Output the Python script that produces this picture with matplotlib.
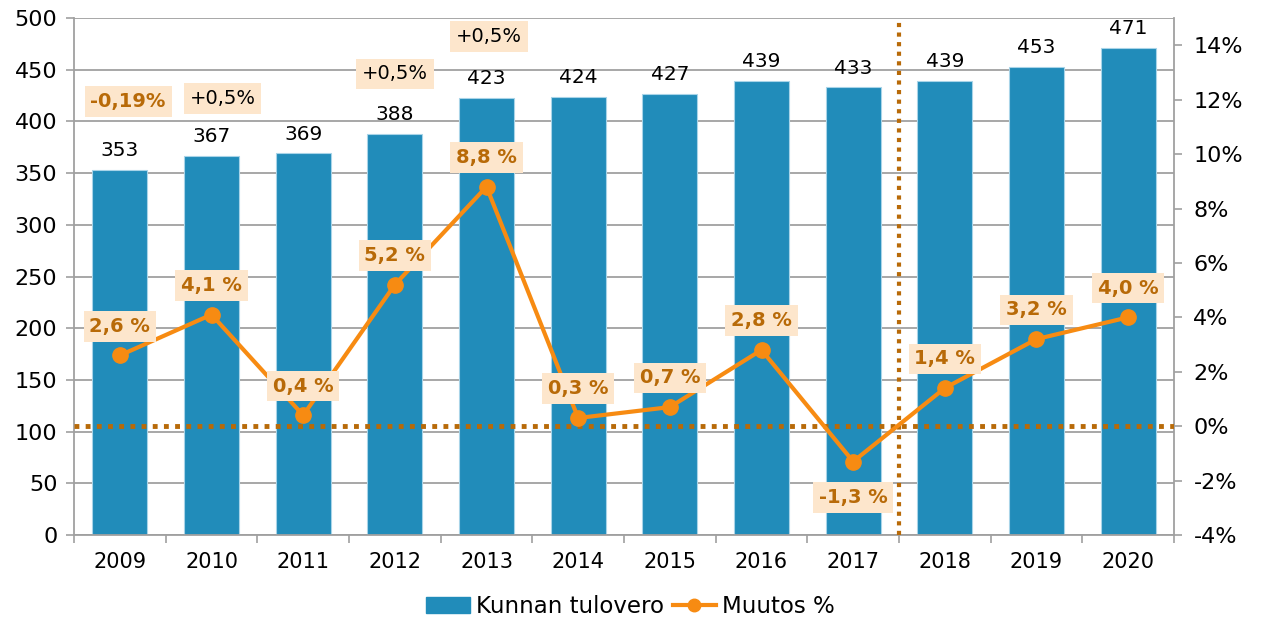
import matplotlib.pyplot as plt
from matplotlib.patches import Patch
from matplotlib.lines import Line2D

# Dati
vuodet = ['2009', '2010', '2011', '2012', '2013', '2014', '2015', '2016', '2017', '2018', '2019', '2020']
tulovero = [353, 367, 369, 388, 423, 424, 427, 439, 433, 439, 453, 471]
muutos = [2.6, 4.1, 0.4, 5.2, 8.8, 0.3, 0.7, 2.8, -1.3, 1.4, 3.2, 4.0]
muutos_txt = ['2,6 %', '4,1 %', '0,4 %', '5,2 %', '8,8 %', '0,3 %', '0,7 %', '2,8 %', '-1,3 %', '1,4 %', '3,2 %', '4,0 %']
# note sopra le barre (testo, x, y sull'asse sinistro)
note_txt = ['-0,19%', '+0,5%', '+0,5%', '+0,5%']
note_x = [0.09, 1.12, 3.0, 4.03]
note_y = [419, 422, 446, 482]

blu = '#218cba'
arancio = '#f78b12'
marrone = '#b86a08'
sfondo = '#fde6cc'
grigio = '#a0a0a0'

fig = plt.figure(figsize=(12.61, 6.23), dpi=100)
ax = fig.add_axes([0.0587, 0.1413, 0.8723, 0.8297])
ax2 = ax.twinx()

x = list(range(len(vuodet)))
ax.bar(x, tulovero, width=0.6, color=blu, edgecolor='#a8d4e8', linewidth=0.8, zorder=2)
for xi, v in zip(x, tulovero):
    ax.annotate(str(v), (xi, v), xytext=(0, 7), textcoords='offset points',
                ha='center', va='bottom', fontsize=14.5, color='black', zorder=5)

ax.set_xlim(-0.5, len(vuodet) - 0.5)
ax.set_ylim(0, 500)
ax.set_yticks(range(0, 501, 50))
ax.set_xticks(x)
ax.set_xticklabels(vuodet, fontsize=15)
ax.set_xticks([i - 0.5 for i in range(len(vuodet) + 1)], minor=True)
ax.tick_params(axis='x', which='major', length=0, pad=12)
ax.tick_params(axis='x', which='minor', length=6, color=grigio, width=1.2)
ax.tick_params(axis='y', labelsize=16, length=6, color=grigio, width=1.2, pad=6)
ax.yaxis.grid(True, color=grigio, linewidth=1.3, zorder=0)
ax.set_axisbelow(True)
for s in ['left', 'right', 'bottom']:
    ax.spines[s].set_color(grigio)
    ax.spines[s].set_linewidth(1.3)
ax.spines['top'].set_visible(False)

# asse destro percentuale
ax2.set_ylim(-4, 15)
ax2.set_yticks(range(-4, 15, 2))
ax2.set_yticklabels([f'{v}%' for v in range(-4, 15, 2)])
ax2.tick_params(axis='y', labelsize=16, length=6, color=grigio, width=1.2, pad=8)
for s in ['left', 'right', 'bottom', 'top']:
    ax2.spines[s].set_visible(False)

ax2.axhline(0, color=marrone, linestyle=(0, (1, 1.3)), linewidth=3.5, zorder=3)
ax2.axvline(8.5, color=marrone, linestyle=(0, (1, 1.3)), linewidth=3, zorder=3)

ax2.plot(x, muutos, color=arancio, linewidth=3, marker='o', markersize=11, zorder=4)
for xi, v, t in zip(x, muutos, muutos_txt):
    dy = -26 if v < 0 else 21
    ax2.annotate(t, (xi, v), xytext=(0, dy), textcoords='offset points',
                 ha='center', va='center', fontsize=14, fontweight='bold', color=marrone,
                 bbox=dict(boxstyle='square,pad=0.3', facecolor=sfondo, edgecolor='none'), zorder=6)

for t, nx, ny in zip(note_txt, note_x, note_y):
    bold = t.startswith('-')
    ax.text(nx, ny, t, ha='center', va='center', fontsize=14,
            fontweight='bold' if bold else 'normal', color=marrone if bold else 'black',
            bbox=dict(boxstyle='square,pad=0.3', facecolor=sfondo, edgecolor='none'), zorder=6)

handles = [Patch(facecolor=blu, edgecolor=blu),
           Line2D([0], [0], color=arancio, linewidth=3, marker='o', markersize=9)]
fig.legend(handles, ['Kunnan tulovero', 'Muutos %'], loc='lower center', ncol=2,
           frameon=False, fontsize=16.5, bbox_to_anchor=(0.5, -0.025),
           handlelength=1.9, handletextpad=0.25, columnspacing=0.4)

fig.savefig('out.png', dpi=100)
plt.close()
